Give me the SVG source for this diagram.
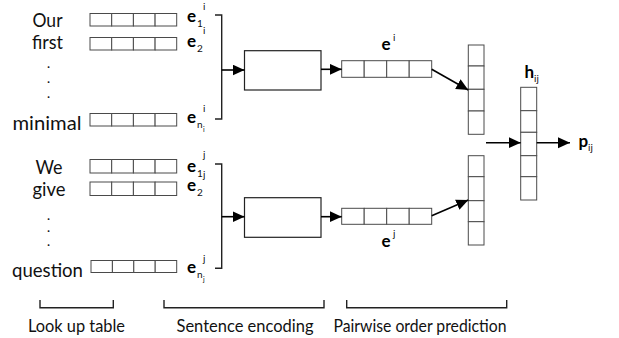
<svg xmlns="http://www.w3.org/2000/svg" width="619" height="338" viewBox="0 0 619 338">
<defs>
<marker id="ah" markerUnits="userSpaceOnUse" markerWidth="13" markerHeight="12" refX="12" refY="5.5" orient="auto">
<path d="M0,0 L12,5.5 L0,11 z" fill="#000"/>
</marker>
<style>
.word{font-family:Lato,"Open Sans","Liberation Sans",sans-serif;font-size:19px;fill:#111;text-anchor:middle}
.dot{font-family:Lato,"Open Sans","Liberation Sans",sans-serif;font-size:11px;font-weight:900;fill:#111;text-anchor:middle}
.cap{font-family:Lato,"Open Sans","Liberation Sans",sans-serif;font-size:18px;fill:#111;text-anchor:middle}
.e{font-family:Lato,"Open Sans","Liberation Sans",sans-serif;font-size:17px;font-weight:bold;fill:#000}
.s{font-family:Lato,"Open Sans","Liberation Sans",sans-serif;font-size:10px;fill:#111}
.ss{font-family:Lato,"Open Sans","Liberation Sans",sans-serif;font-size:7px;fill:#111}
.cell{fill:#fff;stroke:#4a4a4a;stroke-width:1}
.box{fill:#fff;stroke:#222;stroke-width:1.2}
.ln{fill:none;stroke:#222;stroke-width:1.4}
.arr{fill:none;stroke:#000;stroke-width:1.6;marker-end:url(#ah)}
</style>
</defs>
<rect width="619" height="338" fill="#fff"/>

<g id="words-i">
<text class="word" x="47.5" y="26.5" textLength="30" lengthAdjust="spacingAndGlyphs">Our</text>
<text class="word" x="47.5" y="49" textLength="31" lengthAdjust="spacingAndGlyphs">first</text>
<text class="dot" x="48.5" y="68">.</text>
<text class="dot" x="48.5" y="82.5">.</text>
<text class="dot" x="48.5" y="98">.</text>
<text class="word" x="47" y="129.5" textLength="69" lengthAdjust="spacingAndGlyphs">minimal</text>
</g>
<g id="words-j">
<text class="word" x="49" y="173.5" textLength="27" lengthAdjust="spacingAndGlyphs">We</text>
<text class="word" x="49" y="196" textLength="33" lengthAdjust="spacingAndGlyphs">give</text>
<text class="dot" x="48.5" y="219.5">.</text>
<text class="dot" x="48.5" y="232">.</text>
<text class="dot" x="48.5" y="245.5">.</text>
<text class="word" x="47.5" y="276.5" textLength="71" lengthAdjust="spacingAndGlyphs">question</text>
</g>

<g id="lookup-i">
<g><rect class="cell" x="90" y="13.5" width="21.7" height="12.5"/><rect class="cell" x="111.7" y="13.5" width="21.7" height="12.5"/><rect class="cell" x="133.4" y="13.5" width="21.7" height="12.5"/><rect class="cell" x="155.1" y="13.5" width="21.6" height="12.5"/></g>
<g><rect class="cell" x="90" y="37.5" width="21.7" height="12.5"/><rect class="cell" x="111.7" y="37.5" width="21.7" height="12.5"/><rect class="cell" x="133.4" y="37.5" width="21.7" height="12.5"/><rect class="cell" x="155.1" y="37.5" width="21.6" height="12.5"/></g>
<g><rect class="cell" x="90" y="113.5" width="21.7" height="12.5"/><rect class="cell" x="111.7" y="113.5" width="21.7" height="12.5"/><rect class="cell" x="133.4" y="113.5" width="21.7" height="12.5"/><rect class="cell" x="155.1" y="113.5" width="21.6" height="12.5"/></g>
<text class="e" x="187" y="22">e</text><text class="s" x="197" y="27">1</text><text class="s" x="203" y="10">i</text>
<text class="e" x="187" y="46.5">e</text><text class="s" x="197" y="51.5">2</text><text class="s" x="203" y="34">i</text>
<text class="e" x="187" y="123">e</text><text class="s" x="197" y="128">n</text><text class="ss" x="203" y="132">i</text><text class="s" x="203" y="112">i</text>
</g>

<g id="lookup-j">
<g><rect class="cell" x="90" y="159.5" width="21.7" height="13.5"/><rect class="cell" x="111.7" y="159.5" width="21.7" height="13.5"/><rect class="cell" x="133.4" y="159.5" width="21.7" height="13.5"/><rect class="cell" x="155.1" y="159.5" width="21.6" height="13.5"/></g>
<g><rect class="cell" x="90" y="182" width="21.7" height="13.5"/><rect class="cell" x="111.7" y="182" width="21.7" height="13.5"/><rect class="cell" x="133.4" y="182" width="21.7" height="13.5"/><rect class="cell" x="155.1" y="182" width="21.6" height="13.5"/></g>
<g><rect class="cell" x="91" y="260.5" width="21.4" height="12"/><rect class="cell" x="112.4" y="260.5" width="21.4" height="12"/><rect class="cell" x="133.8" y="260.5" width="21.4" height="12"/><rect class="cell" x="155.2" y="260.5" width="21.5" height="12"/></g>
<text class="e" x="187" y="171.5">e</text><text class="s" x="197" y="176.5">1</text><text class="s" x="203" y="158">j</text>
<text class="e" x="187" y="190.5">e</text><text class="s" x="197" y="195.5">2</text><text class="s" x="203" y="178">j</text>
<text class="e" x="187" y="273">e</text><text class="s" x="197" y="278">n</text><text class="ss" x="203" y="282">j</text><text class="s" x="203" y="261.5">j</text>
</g>

<g id="encoder-i">
<rect class="box" x="244.5" y="50.7" width="76.5" height="39.3"/>
</g>
<g id="encoder-j">
<rect class="box" x="244.5" y="197.7" width="76.5" height="39.6"/>
</g>

<g id="vec-ei">
<rect class="cell" x="341.7" y="60.7" width="22.5" height="16.6"/><rect class="cell" x="364.2" y="60.7" width="22.5" height="16.6"/><rect class="cell" x="386.7" y="60.7" width="22.5" height="16.6"/><rect class="cell" x="409.2" y="60.7" width="22.5" height="16.6"/>
<text class="e" x="381.5" y="50">e</text><text class="s" x="393" y="41">i</text>
</g>
<g id="vec-ej">
<rect class="cell" x="341.7" y="208.3" width="22.5" height="16"/><rect class="cell" x="364.2" y="208.3" width="22.5" height="16"/><rect class="cell" x="386.7" y="208.3" width="22.5" height="16"/><rect class="cell" x="409.2" y="208.3" width="22.5" height="16"/>
<text class="e" x="381.5" y="246.5">e</text><text class="s" x="393" y="237">j</text>
</g>

<g id="col-i">
<rect class="cell" x="468.3" y="45" width="15.7" height="21"/><rect class="cell" x="468.3" y="66" width="15.7" height="23.3"/><rect class="cell" x="468.3" y="89.3" width="15.7" height="21.7"/><rect class="cell" x="468.3" y="111" width="15.7" height="23.3"/>
</g>
<g id="col-j">
<rect class="cell" x="468.3" y="155.7" width="15.7" height="21"/><rect class="cell" x="468.3" y="176.7" width="15.7" height="24"/><rect class="cell" x="468.3" y="200.7" width="15.7" height="21"/><rect class="cell" x="468.3" y="221.7" width="15.7" height="23.3"/>
</g>

<g id="h-ij">
<rect class="cell" x="520.7" y="87.3" width="16" height="23.4"/><rect class="cell" x="520.7" y="110.7" width="16" height="21.6"/><rect class="cell" x="520.7" y="132.3" width="16" height="23.4"/><rect class="cell" x="520.7" y="155.7" width="16" height="21"/><rect class="cell" x="520.7" y="176.7" width="16" height="23.3"/>
<text class="e" x="524.5" y="78">h</text><text class="s" x="534" y="81.5">ij</text>
</g>
<g id="p-ij">
<text class="e" x="578.5" y="147">p</text><text class="s" x="588" y="150.5">ij</text>
</g>

<g id="connectors">
<path class="ln" d="M215,15 H221.7 V119 H215"/>
<path class="ln" d="M215,164 H221.7 V268.3 H215"/>
<path class="arr" d="M221.7,70 H244.5"/>
<path class="arr" d="M221.7,216.7 H244.5"/>
<path class="arr" d="M321,69.3 H341.7"/>
<path class="arr" d="M321,216.7 H341.7"/>
<path class="arr" d="M431.7,69.3 L468.3,90"/>
<path class="arr" d="M431.7,215.7 L468.3,200"/>
<path class="arr" d="M486,142.7 H520.7"/>
<path class="arr" d="M536.7,142.7 H570"/>
</g>

<g id="sections">
<path class="ln" d="M40,300 V307.7 H113.3 V300"/>
<path class="ln" d="M164,300 V307.7 H324 V300"/>
<path class="ln" d="M346.7,300 V307.7 H506.7 V300"/>
<text class="cap" x="76.5" y="332" textLength="97" lengthAdjust="spacingAndGlyphs">Look up table</text>
<text class="cap" x="245" y="332" textLength="137" lengthAdjust="spacingAndGlyphs">Sentence encoding</text>
<text class="cap" x="420" y="332" textLength="173" lengthAdjust="spacingAndGlyphs">Pairwise order prediction</text>
</g>
</svg>
